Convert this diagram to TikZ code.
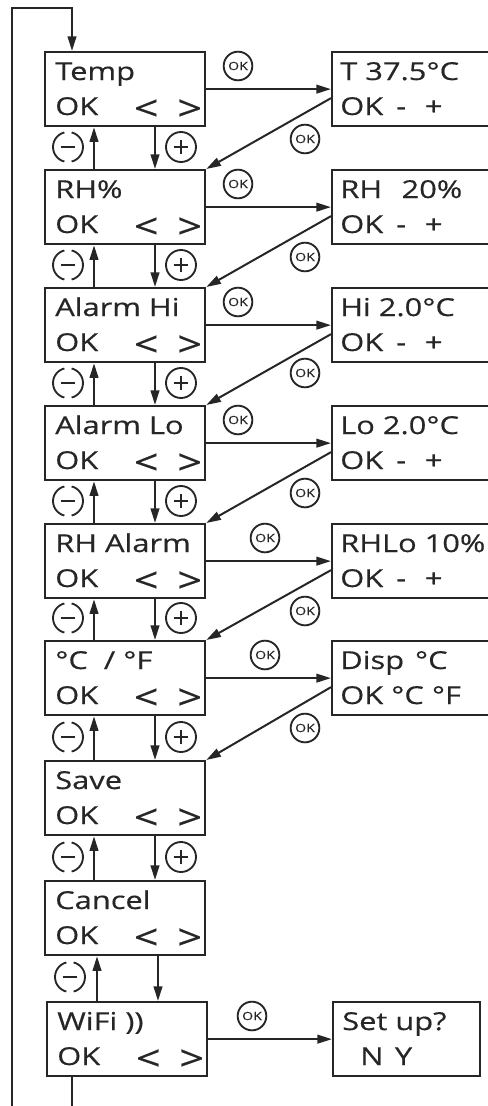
\documentclass[tikz,border=0pt]{standalone}
\usepackage{fontspec}
\setmainfont{Open Sans}[FakeStretch=1.25, FakeBold=0.5]
\usepackage{xcolor}
\usetikzlibrary{arrows.meta,calc,positioning}
\definecolor{ink}{HTML}{262626}

\begin{document}
\begin{tikzpicture}[x=0.75pt, y=-0.75pt]
	\tikzstyle{every node}=[font=\fontsize{18.5}{18.5}\selectfont, text=ink]
	\tikzstyle{screen}=[draw=ink, line width=1.7pt, rectangle, anchor=north west, minimum width=120pt, minimum height=55.5pt, inner sep=0pt]
	\tikzstyle{txt}=[anchor=base west, inner sep=0pt]
	\tikzstyle{keys}=[inner sep=0pt, font=\fontsize{26}{26}\selectfont]
	\tikzstyle{okbtn}=[circle, draw=ink, line width=1.4pt, minimum size=21.5pt, inner sep=0pt, font=\fontsize{8.5}{8.5}\selectfont]
	\tikzstyle{plusbtn}=[circle, draw=ink, line width=1.4pt, minimum size=22.5pt, inner sep=0pt, path picture={\draw[ink, line width=1.2pt] (path picture bounding box.center) +(-5.5pt,0) -- +(5.5pt,0) +(0,-5.5pt) -- +(0,5.5pt);}]
	\tikzstyle{minusbtn}=[circle, draw=ink, line width=1.4pt, minimum size=22.5pt, inner sep=0pt, dash pattern=on 29.8pt off 5.5pt, dash phase=14.9pt, path picture={\draw[ink, solid, line width=1.2pt] (path picture bounding box.center) +(-5.5pt,0) -- +(5.5pt,0);}]
	\tikzstyle{flow}=[draw=ink, line width=1.5pt, -{Triangle[length=11pt, width=6.5pt]}]
	\tikzstyle{link}=[draw=ink, line width=1.5pt]
	\useasboundingbox (0,0) rectangle (488,1106);

	% menu column
	\node[screen] (temp) at (44,51) {};
	\node[screen] (rh) at (44,169) {};
	\node[screen] (alhi) at (44,287) {};
	\node[screen] (allo) at (44,405) {};
	\node[screen] (rhal) at (44,523) {};
	\node[screen] (unit) at (44,640) {};
	\node[screen] (save) at (44,760) {};
	\node[screen] (cancel) at (44,880) {};
	\node[screen] (wifi) at (46,1001) {};

	\node[txt] (temp1) at (55,80) {Temp};
	\node[txt] (temp2) at (55,115) {OK};
	\node[keys] (temp3) at (168,110) {\makebox[32.6pt]{<}\makebox[32.6pt]{>}};
	\node[txt] (rh1) at (55,198) {RH\%};
	\node[txt] (rh2) at (55,233) {OK};
	\node[keys] (rh3) at (168,228) {\makebox[32.6pt]{<}\makebox[32.6pt]{>}};
	\node[txt] (alhi1) at (55,316) {Alarm Hi};
	\node[txt] (alhi2) at (55,351) {OK};
	\node[keys] (alhi3) at (168,346) {\makebox[32.6pt]{<}\makebox[32.6pt]{>}};
	\node[txt] (allo1) at (55,434) {Alarm Lo};
	\node[txt] (allo2) at (55,469) {OK};
	\node[keys] (allo3) at (168,464) {\makebox[32.6pt]{<}\makebox[32.6pt]{>}};
	\node[txt] (rhal1) at (55,552) {RH Alarm};
	\node[txt] (rhal2) at (55,587) {OK};
	\node[keys] (rhal3) at (168,582) {\makebox[32.6pt]{<}\makebox[32.6pt]{>}};
	\node[txt] (unit1) at (55,669) {°C \ / °F};
	\node[txt] (unit2) at (55,704) {OK};
	\node[keys] (unit3) at (168,699) {\makebox[32.6pt]{<}\makebox[32.6pt]{>}};
	\node[txt] (save1) at (55,789) {Save};
	\node[txt] (save2) at (55,824) {OK};
	\node[keys] (save3) at (168,819) {\makebox[32.6pt]{<}\makebox[32.6pt]{>}};
	\node[txt] (cancel1) at (55,909) {Cancel};
	\node[txt] (cancel2) at (55,944) {OK};
	\node[keys] (cancel3) at (168,939) {\makebox[32.6pt]{<}\makebox[32.6pt]{>}};
	\node[txt] (wifi1) at (57,1030) {WiFi ))};
	\node[txt] (wifi2) at (57,1065) {OK};
	\node[keys] (wifi3) at (170,1060) {\makebox[32.6pt]{<}\makebox[32.6pt]{>}};

	% setting column
	\node[screen] (tset) at (331,51) {};
	\node[screen] (rhset) at (331,169) {};
	\node[screen] (hiset) at (331,287) {};
	\node[screen] (loset) at (331,405) {};
	\node[screen] (rhloset) at (331,523) {};
	\node[screen] (dispset) at (331,640) {};
	\node[screen, minimum width=110.25pt] (setup) at (332,1001) {};

	\node[txt] (tset1) at (340,80) {T 37.5°C};
	\node[txt] (tset2) at (340,115) {\makebox[42pt][l]{OK}\makebox[21.5pt][l]{-}+};
	\node[txt] (rhset1) at (340,198) {\makebox[46pt][l]{RH}20\%};
	\node[txt] (rhset2) at (340,233) {\makebox[42pt][l]{OK}\makebox[21.5pt][l]{-}+};
	\node[txt] (hiset1) at (340,316) {Hi 2.0°C};
	\node[txt] (hiset2) at (340,351) {\makebox[42pt][l]{OK}\makebox[21.5pt][l]{-}+};
	\node[txt] (loset1) at (340,434) {Lo 2.0°C};
	\node[txt] (loset2) at (340,469) {\makebox[42pt][l]{OK}\makebox[21.5pt][l]{-}+};
	\node[txt] (rhloset1) at (340,552) {RHLo 10\%};
	\node[txt] (rhloset2) at (340,587) {\makebox[42pt][l]{OK}\makebox[21.5pt][l]{-}+};
	\node[txt] (dispset1) at (340,669) {\makebox[56pt][l]{Disp}°C};
	\node[txt] (dispset2) at (340,704) {OK °C °F};
	\node[txt] (setup1) at (342,1030) {Set up?};
	\node[txt] (setup2) at (360,1065) {\makebox[26pt][l]{N}Y};

	% OK buttons
	\node[okbtn] (ok1) at (238,66) {OK};
	\node[okbtn] (ok2) at (305,139) {OK};
	\node[okbtn] (ok3) at (238,184) {OK};
	\node[okbtn] (ok4) at (305,257) {OK};
	\node[okbtn] (ok5) at (238,302) {OK};
	\node[okbtn] (ok6) at (305,373) {OK};
	\node[okbtn] (ok7) at (238,420) {OK};
	\node[okbtn] (ok8) at (305,493) {OK};
	\node[okbtn] (ok9) at (265,538) {OK};
	\node[okbtn] (ok10) at (305,611) {OK};
	\node[okbtn] (ok11) at (265,655) {OK};
	\node[okbtn] (ok12) at (305,728) {OK};
	\node[okbtn] (ok13) at (252,1016) {OK};

	% minus / plus buttons
	\node[minusbtn] (m1) at (68,147) {};
	\node[minusbtn] (m2) at (68,265) {};
	\node[minusbtn] (m3) at (68,383) {};
	\node[minusbtn] (m4) at (68,501) {};
	\node[minusbtn] (m5) at (68,618) {};
	\node[minusbtn] (m6) at (68,737) {};
	\node[minusbtn] (m7) at (68,857) {};
	\node[minusbtn] (m8) at (70,977) {};
	\node[plusbtn] (p1) at (181,147) {};
	\node[plusbtn] (p2) at (181,265) {};
	\node[plusbtn] (p3) at (181,383) {};
	\node[plusbtn] (p4) at (181,501) {};
	\node[plusbtn] (p5) at (181,618) {};
	\node[plusbtn] (p6) at (181,737) {};
	\node[plusbtn] (p7) at (181,857) {};

	% up / down
	\draw[flow] ($(rh.north west)+(50,0)$) -- ($(temp.south west)+(50,0)$);
	\draw[flow] ($(temp.south west)+(111,0)$) -- ($(rh.north west)+(111,0)$);
	\draw[flow] ($(alhi.north west)+(50,0)$) -- ($(rh.south west)+(50,0)$);
	\draw[flow] ($(rh.south west)+(111,0)$) -- ($(alhi.north west)+(111,0)$);
	\draw[flow] ($(allo.north west)+(50,0)$) -- ($(alhi.south west)+(50,0)$);
	\draw[flow] ($(alhi.south west)+(111,0)$) -- ($(allo.north west)+(111,0)$);
	\draw[flow] ($(rhal.north west)+(50,0)$) -- ($(allo.south west)+(50,0)$);
	\draw[flow] ($(allo.south west)+(111,0)$) -- ($(rhal.north west)+(111,0)$);
	\draw[flow] ($(unit.north west)+(50,0)$) -- ($(rhal.south west)+(50,0)$);
	\draw[flow] ($(rhal.south west)+(111,0)$) -- ($(unit.north west)+(111,0)$);
	\draw[flow] ($(save.north west)+(50,0)$) -- ($(unit.south west)+(50,0)$);
	\draw[flow] ($(unit.south west)+(111,0)$) -- ($(save.north west)+(111,0)$);
	\draw[flow] ($(cancel.north west)+(50,0)$) -- ($(save.south west)+(50,0)$);
	\draw[flow] ($(save.south west)+(111,0)$) -- ($(cancel.north west)+(111,0)$);
	\draw[flow] ($(wifi.north west)+(51,0)$) -- ($(cancel.south west)+(53,0)$);
	\draw[flow] ($(cancel.south west)+(114,0)$) -- ($(wifi.north west)+(112,0)$);

	% into settings and back
	\draw[flow] (temp.east) -- (tset.west);
	\draw[flow] ($(tset.west)+(0,9)$) -- (rh.north east);
	\draw[flow] (rh.east) -- (rhset.west);
	\draw[flow] ($(rhset.west)+(0,9)$) -- (alhi.north east);
	\draw[flow] (alhi.east) -- (hiset.west);
	\draw[flow] ($(hiset.west)+(0,9)$) -- (allo.north east);
	\draw[flow] (allo.east) -- (loset.west);
	\draw[flow] ($(loset.west)+(0,9)$) -- (rhal.north east);
	\draw[flow] (rhal.east) -- (rhloset.west);
	\draw[flow] ($(rhloset.west)+(0,9)$) -- (unit.north east);
	\draw[flow] (unit.east) -- (dispset.west);
	\draw[flow] ($(dispset.west)+(0,9)$) -- (save.north east);
	\draw[flow] (wifi.east) -- (setup.west);

	% wrap round
	\coordinate (loopa) at (12,1106);
	\coordinate (loopb) at (72,1106);
	\draw[flow] (loopa) -- (12,8) -| ($(temp.north west)+(28,0)$);
	\draw[link] ($(wifi.south west)+(26,0)$) -- (loopb);
\end{tikzpicture}
\end{document}
